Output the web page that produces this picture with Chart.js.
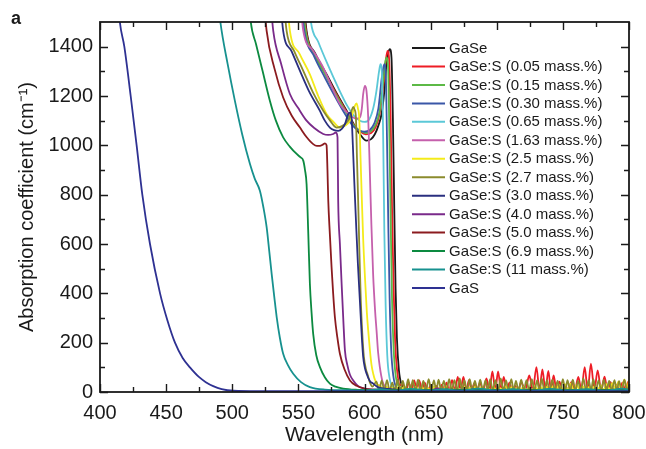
<!DOCTYPE html>
<html>
<head>
<meta charset="utf-8">
<title>Absorption spectra of GaSe:S</title>
<script src="https://cdn.jsdelivr.net/npm/chart.js@4.4.1/dist/chart.umd.min.js"></script>
<style>
  html, body { margin: 0; padding: 0; background: #fff; }
  canvas { display: block; }
</style>
</head>
<body>
<canvas id="spectra" width="646" height="449"></canvas>
<script>
// [wavelength (nm), absorption coefficient (cm^-1)] for each crystal
var gase = [[553,1650],[556.2,1464],[563,1370],[571.3,1288],[579,1210],[586.5,1140],[592,1085],[596.5,1046],[601.5,1019],[605,1025],[607.9,1046],[610.5,1080],[612.9,1127],[615,1220],[616.6,1329],[618,1375],[619.2,1390],[620.4,1356],[621.5,1100],[622.5,750],[623.5,420],[624.5,220],[626,90],[628,30],[631,12],[640,8],[655,11],[670,7],[690,10],[707,14],[720,8],[750,10],[780,8],[800,9]];

var gase005 = [[552.5,1650],[555.8,1464],[563,1365],[571,1285],[579,1205],[586.5,1135],[592,1082],[597,1055],[601,1045],[605,1050],[608.5,1075],[611.5,1130],[614,1230],[616,1340],[617.4,1383],[618.6,1350],[619.8,1100],[620.8,750],[622,420],[623.2,200],[624.8,80],[627,28],
  [629,32],[631.3,6],[633.5,38],[635.5,6],[637.6,47],[639.5,6],[641.4,47],[643.5,6],[645.5,38],[647.8,5],[650,28],[652.3,5],[654.5,25],[656.5,5],[658.5,30],[660.3,5],[662,38],[664,6],[666.2,48],[668.4,6],[670.5,61],[672.6,6],[674.8,61],[677,6],[679,48],[681,5],[683,35],[685,5],[687.3,38],[689.8,5],[692.2,55],[694.5,6],[696.7,84],[698.9,6],[701,84],[703.2,6],[705.3,61],[707.5,5],[709.6,38],[711.8,5],[714,25],[716.2,5],[718.5,40],[721.5,6],[724.6,67],[727.3,6],[730,101],[732.3,6],[734.5,92],[736.8,6],[739,86],[741,6],[743,67],[745.2,5],[747.4,42],[749.6,5],[751.8,28],[754,5],[756.4,40],[759,6],[761.7,61],[764,6],[766.5,101],[768.8,6],[771.2,115],[773.8,6],[776.3,88],[778.9,6],[781.5,62],[783.8,5],[786,40],[788.3,5],[790.5,30],[792.8,5],[795,38],[797.3,5],[799.5,42],[800,35]];

var gase015 = [[552,1650],[555.5,1464],[563,1360],[571,1280],[579,1200],[586.5,1130],[592,1080],[597,1058],[601,1050],[605,1058],[608.5,1085],[611.5,1140],[614,1250],[615.5,1330],[616.6,1356],[617.8,1320],[618.8,1050],[619.8,700],[620.8,380],[622,180],[623.5,70],[626,22],[630,12],[645,8],[662,12],[680,7],[698,11],[716,8],[735,12],[752,7],[770,11],[788,8],[800,10]];

var gase030 = [[551,1650],[554.5,1464],[562,1360],[570,1275],[578,1195],[585.5,1125],[591,1080],[596,1060],[600,1055],[604,1062],[607.5,1090],[610.5,1150],[613,1270],[614.9,1329],[616,1300],[617,1030],[618,680],[619,380],[620.2,170],[621.8,65],[624,20],[628,10],[636,5],[644,13],[652,6],[660,12],[668,5],[676,13],[684,6],[692,12],[700,5],[708,13],[716,6],[724,12],[732,5],[740,13],[748,6],[756,12],[764,5],[772,13],[780,6],[788,12],[796,5],[800,9]];

var gase065 = [[557,1650],[559.5,1500],[565,1420],[572,1330],[580,1235],[587,1160],[592,1120],[596.5,1100],[600,1095],[603.5,1105],[606.6,1150],[609,1220],[611,1300],[612.1,1329],[613.2,1290],[614.2,1000],[615,650],[616,350],[617.2,150],[619,55],[622,18],[628,10],[640,14],[648,6],[656,13],[664,5],[672,12],[680,6],[688,14],[696,5],[704,12],[712,6],[720,13],[728,5],[736,12],[744,6],[752,14],[760,5],[768,12],[776,6],[784,13],[792,5],[800,11]];

var gase163 = [[550.5,1650],[553.7,1464],[561,1385],[568.8,1315],[575,1240],[581.4,1167],[586.5,1135],[591.5,1113],[594,1108],[596.5,1113],[598,1150],[599,1208],[600.3,1241],[601.5,1221],[602.8,1113],[604,900],[605.2,680],[606.5,480],[608,330],[609.1,250],[610.3,160],[611.6,101],[613.5,45],[616,18],[620,10],[640,8],[660,10],[680,7],[700,9],[720,7],[740,9],[760,7],[780,9],[800,8]];

var gase25 = [[540.5,1650],[543.6,1464],[551,1370],[558.7,1288],[565,1200],[571.3,1127],[576.5,1095],[581.4,1072],[585.5,1080],[589,1100],[591,1130],[592.7,1160],[594,1170],[595,1150],[596,1113],[597,950],[598,780],[599,620],[600.5,450],[601.8,320],[602.8,250],[604.1,169],[605.3,110],[606.6,74],[608,48],[610,30],
  [612,26],[614,7],[616.5,22],[618.8,6],[621,18],[623.2,6],[625.5,20],[627.7,6],[630,24],[632.2,6],[634.5,18],[636.7,6],[639,22],[641.2,6],[643.5,20],[645.7,5],[648,16],[650.2,5],[652.5,22],[654.7,6],[657,18],[659.2,6],[661.5,24],[663.7,6],[666,20],[668.2,6],[670.5,16],[672.7,5],[675,22],[677.2,6],[679.5,18],[681.7,6],[684,24],[686.2,6],[688.5,20],[690.7,5],[693,18],[695.2,6],[697.5,22],[699.7,6],[702,18],[704.2,6],[706.5,24],[708.7,6],[711,20],[713.2,6],[715.5,18],[717.7,5],[720,22],[722.2,6],[724.5,18],[726.7,6],[729,24],[731.2,6],[733.5,20],[735.7,6],[738,22],[740.2,6],[742.5,24],[744.7,6],[747,28],[749.2,6],[751.5,32],[753.7,6],[756,34],[758.2,6],[760.5,30],[762.7,6],[765,24],[767.2,6],[769.5,20],[771.7,6],[774,24],[776.2,6],[778.5,28],[780.7,6],[783,32],[785.2,6],[787.5,36],[789.7,6],[792,42],[794.2,8],[796.5,50],[798.5,12],[800,48]];

var gase27 = [[538,1650],[541.1,1464],[547,1380],[553.7,1302],[561,1215],[568.8,1140],[574,1100],[578.8,1072],[583,1078],[586.5,1093],[589,1115],[590.2,1140],[591.5,1156],[592.5,1145],[593.5,1113],[594.3,950],[595.2,776],[596.2,560],[597.2,371],[598.3,240],[599.5,145],[601,95],[602.5,68],[604,40],[606,22],
  [609,42],[611,6],[613,46],[615,5],[617,48],[619,6],[621,38],[623,5],[625,50],[627,6],[629,45],[631,5],[633,52],[634.8,6],[636.5,48],[638.5,5],[640.5,50],[642.5,6],[644.5,45],[646.5,5],[648.5,52],[650.5,6],[652.5,47],[654.3,5],[656,50],[658,6],[660,45],[662,5],[664,52],[666,6],[668,48],[670,5],[672,55],[673.8,6],[675.5,47],[677.5,5],[679.5,52],[681.5,6],[683.5,45],[685.5,5],[687.5,50],[689.5,6],[691.5,47],[693.3,5],[695,52],[697,6],[699,48],[701,5],[703,55],[705,6],[707,47],[709,5],[711,52],[712.8,6],[714.5,45],[716.5,5],[718.5,50],[720.5,6],[722.5,48],[724.5,5],[726.5,52],[728.5,6],[730.5,47],[732.3,5],[734,55],[736,6],[738,48],[740,5],[742,50],[744,6],[746,45],[748,5],[750,52],[751.8,6],[753.5,48],[755.5,5],[757.5,50],[759.5,6],[761.5,45],[763.5,5],[765.5,55],[767.5,6],[769.5,48],[771.3,5],[773,52],[775,6],[777,47],[779,5],[781,50],[783,6],[785,45],[787,5],[789,48],[790.8,6],[792.5,44],[794.5,5],[796.5,50],[798.5,6],[800,30]];

var gase30 = [[535.5,1650],[538.5,1464],[545,1380],[551.2,1302],[558,1220],[566.3,1140],[570,1100],[573.8,1072],[577,1062],[580.1,1059],[583,1068],[585.2,1086],[587.7,1127],[589,1133],[590.2,1113],[591.2,1000],[592.3,850],[593.5,700],[595,520],[596.5,371],[598,220],[599,142],[600.2,100],[601.6,74],[604,45],[606.6,34],[610,20],[620,12],[640,8],[665,10],[690,7],[720,9],[750,7],[780,9],[800,8]];

var gase40 = [[528,1650],[531,1464],[537,1330],[543.6,1208],[550,1150],[556.2,1100],[562,1070],[568.8,1046],[572.5,1042],[576.3,1046],[578.4,1052],[579.6,1032],[580.1,776],[581.4,600],[582.7,439],[584,290],[585.2,169],[587,110],[589,70],[591.5,47],[595,25],[600,14],[610,9],[640,7],[651,7],[655,15],[659,7],[679,7],[683,13],[687,7],[720,7],[760,8],[800,7]];

var gase50 = [[523,1650],[526,1464],[532,1310],[538.5,1194],[545,1120],[551.2,1072],[556,1035],[561.2,1005],[564,998],[566.3,998],[568.5,1003],[570.1,1008],[571.3,1000],[572,900],[572.6,776],[573.8,640],[575.1,506],[576.3,400],[577.6,304],[579.5,220],[581.4,155],[585,90],[589,47],[594,25],[600,14],[610,9],[650,7],[700,8],[750,7],[800,8]];

var gase69 = [[511,1700],[514,1500],[518,1410],[523,1300],[528.5,1180],[533,1100],[538.5,1032],[543.5,995],[548.7,965],[551.5,952],[553.7,938],[555,900],[556.2,843],[557.5,641],[558.7,439],[560,320],[561.2,236],[563.5,150],[566.3,101],[570,60],[573.8,34],[578,22],[583.9,14],[595,9],[610,7],[650,8],[700,7],[750,8],[800,7]];

var gase11 = [[488,1650],[491,1500],[496.5,1330],[502,1180],[507.5,1045],[513.4,924],[517,865],[520.9,816],[523.5,750],[526,668],[528,570],[529.8,479],[531.8,385],[533.6,304],[536,220],[538.5,155],[542,110],[546.1,74],[552,40],[558.7,20],[570,10],[590,7],[600,6],[612,12],[622,5],[635,13],[648,6],[660,12],[672,5],[686,14],[700,6],[712,12],[726,5],[740,13],[754,6],[768,12],[782,5],[795,14],[800,8]];

var gas = [[412,1700],[415,1500],[418.4,1400],[423.2,1200],[427.7,1000],[432,800],[437.8,600],[445.4,400],[451,290],[456.7,200],[462.5,138],[468,100],[475,60],[480,40],[485.6,24],[492,12],[500.8,5],[520,3],[600,3],[800,3]];

var seriesData = [gase, gase005, gase015, gase030, gase065, gase163, gase25, gase27, gase30, gase40, gase50, gase69, gase11, gas];

var seriesLabels = ["GaSe", "GaSe:S (0.05 mass.%)", "GaSe:S (0.15 mass.%)", "GaSe:S (0.30 mass.%)",
  "GaSe:S (0.65 mass.%)", "GaSe:S (1.63 mass.%)", "GaSe:S (2.5 mass.%)", "GaSe:S (2.7 mass.%)",
  "GaSe:S (3.0 mass.%)", "GaSe:S (4.0 mass.%)", "GaSe:S (5.0 mass.%)", "GaSe:S (6.9 mass.%)",
  "GaSe:S (11 mass.%)", "GaS"];

var seriesColors = ["#1a1a1a", "#ee1c25", "#5cb946", "#3a57a7", "#5bc8d7", "#c560ac", "#f4eb1a",
  "#8b8b2d", "#2a2f7f", "#7a2a8a", "#8b1b1f", "#0c8a40", "#17918f", "#2e3192"];

var xTicks = [400, 450, 500, 550, 600, 650, 700, 750, 800];
var xMinorTicks = [425, 475, 525, 575, 625, 675, 725, 775];
var yTicks = [0, 200, 400, 600, 800, 1000, 1200, 1400];
var yMinorTicks = [100, 300, 500, 700, 900, 1100, 1300];

var FONT = "'Liberation Sans', Arial, Helvetica, sans-serif";
Chart.defaults.font.family = FONT;
Chart.defaults.color = "#1a1a1a";

// Box around the plot with inward tick marks on all four sides
var frameTicks = {
  id: "frameTicks",
  afterDraw: function (chart) {
    var ctx = chart.ctx, a = chart.chartArea;
    var xs = chart.scales.x, ys = chart.scales.y;
    ctx.save();
    ctx.strokeStyle = "#1a1a1a";
    ctx.lineWidth = 1.4;
    ctx.beginPath();
    function xMark(v, len) {
      var px = Math.round(xs.getPixelForValue(v)) + 0.5;
      ctx.moveTo(px, a.bottom); ctx.lineTo(px, a.bottom - len);
      ctx.moveTo(px, a.top); ctx.lineTo(px, a.top + len);
    }
    function yMark(v, len) {
      var py = Math.round(ys.getPixelForValue(v)) + 0.5;
      ctx.moveTo(a.left, py); ctx.lineTo(a.left + len, py);
      ctx.moveTo(a.right, py); ctx.lineTo(a.right - len, py);
    }
    xTicks.forEach(function (v) { xMark(v, 8); });
    xMinorTicks.forEach(function (v) { xMark(v, 5); });
    yTicks.forEach(function (v) { yMark(v, 8); });
    yMinorTicks.forEach(function (v) { yMark(v, 5); });
    ctx.stroke();
    ctx.lineWidth = 1.8;
    ctx.strokeRect(a.left, a.top, a.right - a.left, a.bottom - a.top);
    ctx.restore();
  }
};

// Legend listed inside the plot, top right, plus the panel letter
var insideLegend = {
  id: "insideLegend",
  afterDraw: function (chart) {
    var ctx = chart.ctx, a = chart.chartArea;
    var x0 = a.right - 217, y0 = a.top + 26, row = 18.46;
    ctx.save();
    ctx.font = "15px " + FONT;
    ctx.textBaseline = "middle";
    ctx.textAlign = "left";
    chart.data.datasets.forEach(function (ds, i) {
      var y = y0 + i * row;
      ctx.strokeStyle = ds.borderColor;
      ctx.lineWidth = 2;
      ctx.beginPath();
      ctx.moveTo(x0, y);
      ctx.lineTo(x0 + 33, y);
      ctx.stroke();
      ctx.fillStyle = "#1a1a1a";
      ctx.fillText(ds.label, x0 + 37, y + 0.5);
    });
    ctx.font = "bold 18px " + FONT;
    ctx.textBaseline = "alphabetic";
    ctx.fillText("a", 11, 24);
    ctx.restore();
  }
};

var datasets = seriesData.map(function (pts, i) {
  return {
    label: seriesLabels[i],
    data: pts.map(function (p) { return { x: p[0], y: p[1] }; }),
    borderColor: seriesColors[i],
    backgroundColor: seriesColors[i],
    borderWidth: 1.8,
    pointRadius: 0,
    fill: false,
    cubicInterpolationMode: "monotone",
    clip: 0,
    // later samples are drawn on top
    order: seriesData.length - i
  };
});

new Chart(document.getElementById("spectra").getContext("2d"), {
  type: "line",
  data: { datasets: datasets },
  options: {
    responsive: false,
    animation: false,
    layout: { padding: { top: 22, right: 17, bottom: 0, left: 0 } },
    plugins: {
      legend: { display: false },
      tooltip: { enabled: false }
    },
    scales: {
      x: {
        type: "linear",
        min: 400,
        max: 800,
        afterBuildTicks: function (s) { s.ticks = xTicks.map(function (v) { return { value: v }; }); },
        afterFit: function (s) {
          s.height = 57;
          // end labels may hang past the plot edge; keep the plot box fixed
          s.paddingLeft = 0;
          s.paddingRight = 0;
        },
        grid: { display: false, drawTicks: false },
        border: { display: false },
        ticks: {
          font: { size: 20 },
          color: "#1a1a1a",
          padding: 9,
          maxRotation: 0,
          autoSkip: false,
          callback: function (v) { return String(v); }
        },
        title: {
          display: true,
          text: "Wavelength (nm)",
          font: { size: 21 },
          color: "#1a1a1a",
          padding: { top: 0, bottom: 1 }
        }
      },
      y: {
        type: "linear",
        min: 0,
        max: 1500,
        afterBuildTicks: function (s) { s.ticks = yTicks.map(function (v) { return { value: v }; }); },
        afterFit: function (s) { s.width = 100; },
        grid: { display: false, drawTicks: false },
        border: { display: false },
        ticks: {
          font: { size: 20 },
          color: "#1a1a1a",
          padding: 7,
          autoSkip: false,
          callback: function (v) { return String(v); }
        },
        title: {
          display: true,
          text: "Absorption coefficient (cm\u207B\u00B9)",
          font: { size: 20 },
          color: "#1a1a1a",
          padding: { top: 15, bottom: 0 }
        }
      }
    }
  },
  plugins: [frameTicks, insideLegend]
});
</script>
</body>
</html>
